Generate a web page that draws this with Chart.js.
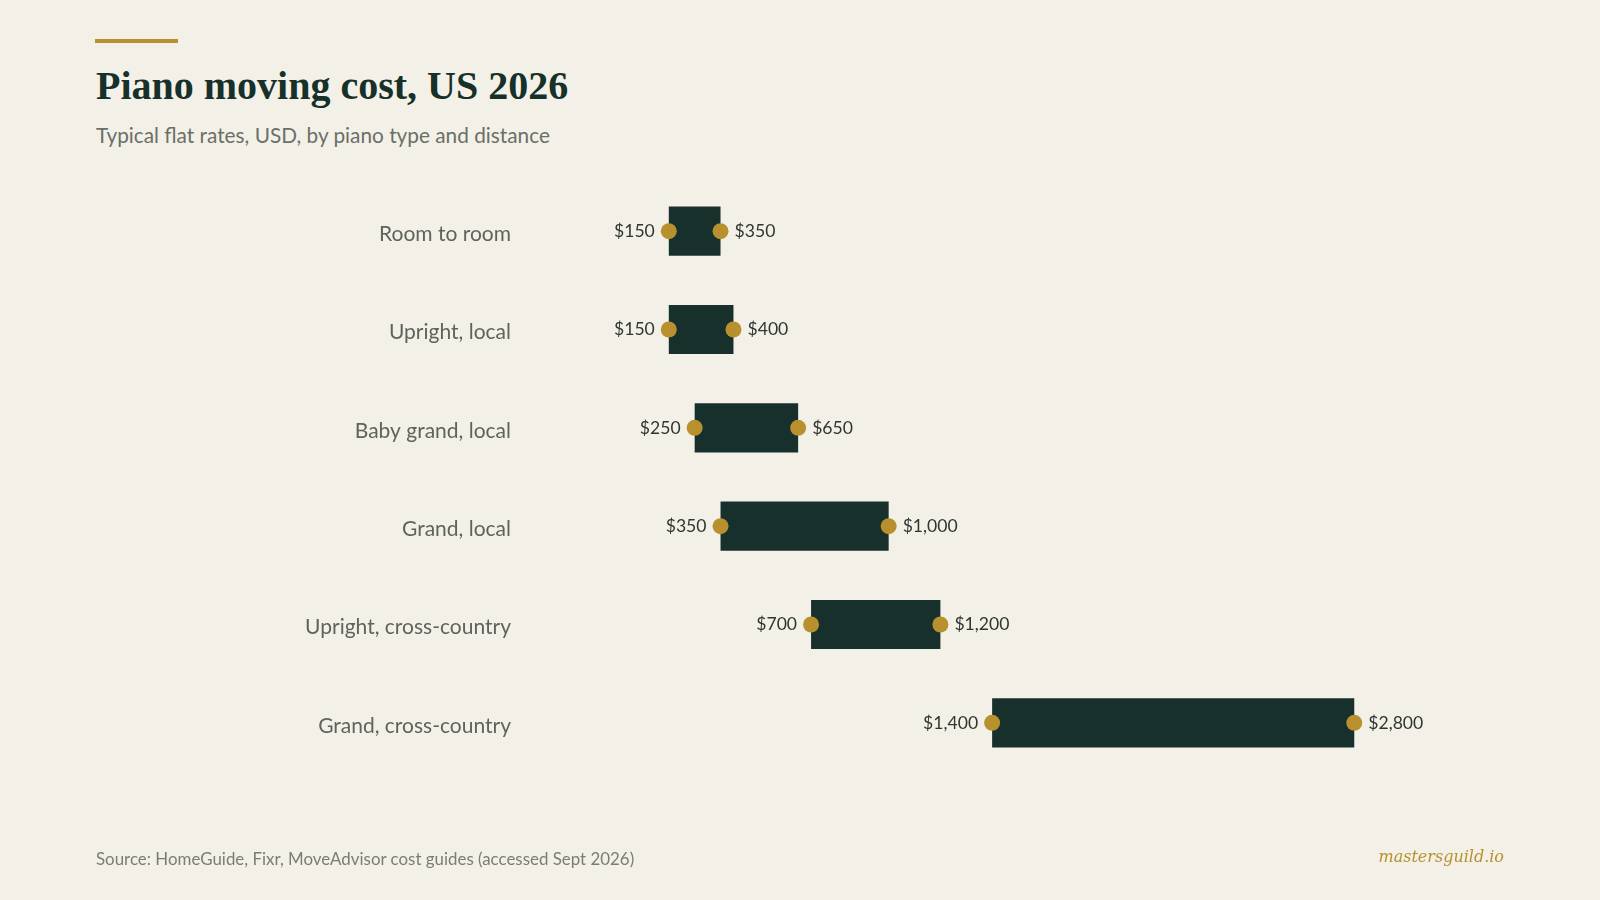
<!DOCTYPE html>
<html>
<head>
<meta charset="utf-8">
<script src="https://cdn.jsdelivr.net/npm/chart.js@4"></script>
<style>
  html, body { margin: 0; padding: 0; background: #f3f1e7; }
  body { width: 1600px; height: 900px; position: relative; overflow: hidden; font-family: Lato, sans-serif; }
  .accent { position: absolute; left: 95px; top: 39px; width: 83px; height: 4px; background: #b8902e; }
  h1 { position: absolute; left: 96px; top: 62px; margin: 0; font-family: "Liberation Serif", serif; font-weight: bold; font-size: 40px; color: #17302a; }
  .sub { position: absolute; left: 96px; top: 122px; font-size: 20.8px; color: #6b6f68; }
  .source { position: absolute; left: 96px; top: 848px; font-size: 16.9px; color: #7a7d76; }
  .brand { position: absolute; right: 96px; top: 847px; font-family: "DejaVu Serif", serif; font-style: italic; font-size: 16px; color: #b8902e; }
  #chart { position: absolute; left: 0; top: 0; }
</style>
</head>
<body>
<div class="accent"></div>
<h1>Piano moving cost, US 2026</h1>
<div class="sub">Typical flat rates, USD, by piano type and distance</div>
<canvas id="chart" width="1600" height="900"></canvas>
<div class="source">Source: HomeGuide, Fixr, MoveAdvisor cost guides (accessed Sept 2026)</div>
<div class="brand">mastersguild.io</div>
<script>
// Data
const categories = ['Room to room', 'Upright, local', 'Baby grand, local', 'Grand, local', 'Upright, cross-country', 'Grand, cross-country'];
const lowCost = [150, 150, 250, 350, 700, 1400];
const highCost = [350, 400, 650, 1000, 1200, 2800];

const money = v => '$' + v.toLocaleString('en-US');

// Draws the $ labels beside the dots
const valueLabels = {
    id: 'valueLabels',
    afterDatasetsDraw(chart) {
        const ctx = chart.ctx;
        ctx.save();
        ctx.font = '17.6px Lato, sans-serif';
        ctx.fillStyle = '#2f3632';
        ctx.textBaseline = 'middle';
        chart.getDatasetMeta(1).data.forEach((pt, i) => {
            ctx.textAlign = 'right';
            ctx.fillText(money(lowCost[i]), pt.x - 14, pt.y);
        });
        chart.getDatasetMeta(2).data.forEach((pt, i) => {
            ctx.textAlign = 'left';
            ctx.fillText(money(highCost[i]), pt.x + 14, pt.y);
        });
        ctx.restore();
    }
};

new Chart(document.getElementById('chart').getContext('2d'), {
    type: 'bar',
    data: {
        labels: categories,
        datasets: [{
            type: 'bar',
            data: categories.map((c, i) => [lowCost[i], highCost[i]]),
            backgroundColor: '#17302b',
            borderWidth: 0,
            barPercentage: 0.5,
            categoryPercentage: 1,
            order: 2
        }, {
            type: 'line',
            indexAxis: 'y',
            data: lowCost,
            showLine: false,
            pointRadius: 8,
            pointHoverRadius: 8,
            pointBackgroundColor: '#b8902e',
            pointBorderWidth: 0,
            order: 1
        }, {
            type: 'line',
            indexAxis: 'y',
            data: highCost,
            showLine: false,
            pointRadius: 8,
            pointHoverRadius: 8,
            pointBackgroundColor: '#b8902e',
            pointBorderWidth: 0,
            order: 1
        }]
    },
    options: {
        indexAxis: 'y',
        responsive: false,
        animation: false,
        layout: { autoPadding: false, padding: { left: 0, right: 194, top: 182, bottom: 128 } },
        plugins: { legend: { display: false }, tooltip: { enabled: false } },
        scales: {
            x: { display: false, min: 0, max: 3000 },
            y: {
                grid: { display: false, drawTicks: false },
                border: { display: false },
                ticks: { padding: 119, labelOffset: 3, color: '#5e635d', font: { family: 'Lato', size: 21 } },
                afterFit(scale) {
                    scale.width = 630;
                    scale.paddingTop = 0;
                    scale.paddingBottom = 0;
                }
            }
        }
    },
    plugins: [valueLabels]
});
</script>
</body>
</html>
